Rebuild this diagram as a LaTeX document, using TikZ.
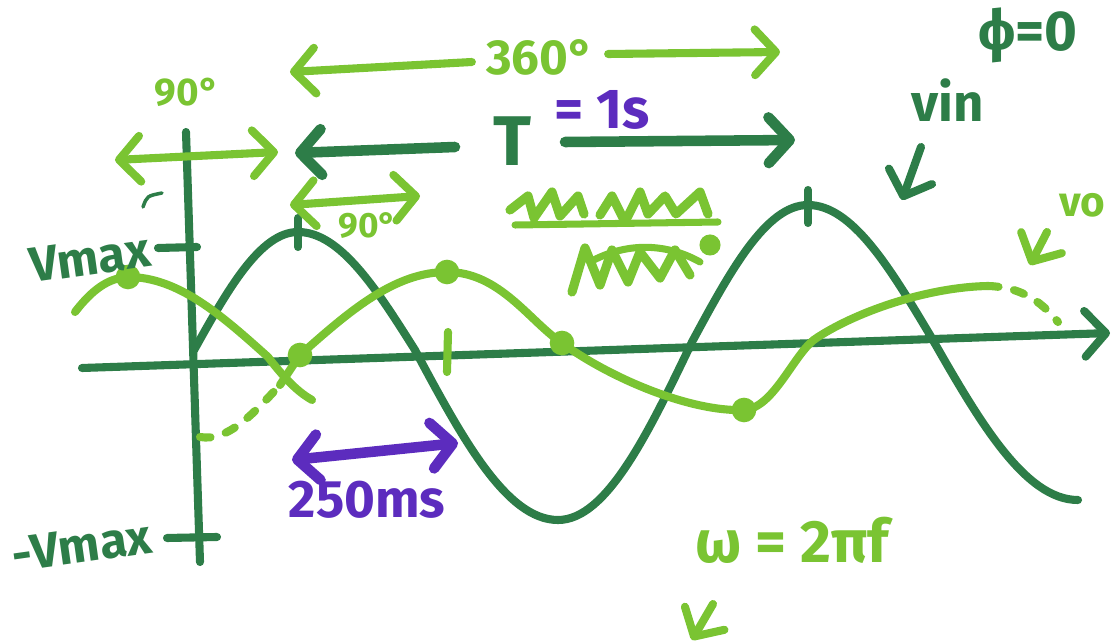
\documentclass[tikz,border=0pt]{standalone}
\usepackage{fontspec}
\setmainfont{Fira Sans}
\usetikzlibrary{arrows.meta}
\definecolor{vingreen}  {RGB}{ 45,125, 72}
\definecolor{vogreen}   {RGB}{122,196, 50}
\definecolor{timepurple}{RGB}{ 92, 44,190}

\begin{document}
\begin{tikzpicture}[
  x=0.01cm, y=-0.01cm,
  >={Straight Barb[length=6pt, width=13pt, line cap=round, line join=round]},
  every node/.style={font=\bfseries\fontsize{11}{11}\selectfont, inner sep=1pt},
  pen/.style={line width=2.3pt, line cap=round, line join=round},
  axisline/.style={pen, vingreen},
  vinline/.style={pen, vingreen},
  voline/.style={pen, vogreen},
  vodash/.style={voline, dash pattern=on 3pt off 4.5pt},
  timeline/.style={pen, timepurple, line width=3pt},
  vinlabel/.style={text=vingreen},
  volabel/.style={text=vogreen},
  timelabel/.style={text=timepurple}
]
  \useasboundingbox (0,0) rectangle (1115,643);

  % Axes
  \coordinate (xstart) at (82,368);
  \coordinate (xend) at (1110,333);
  \coordinate (ytop) at (186,132);
  \coordinate (ybot) at (200,562);
  \draw [axisline, ->] (xstart) -- (xend);
  \draw [axisline] (ytop) -- (ybot);
  \draw [axisline] (158,248) -- (197,247);
  \draw [axisline] (167,538) -- (217,537);
  \draw [vingreen, line width=1pt, line cap=round] (143,207) .. controls (147,196) .. (162,193);

  % vin
  \draw [vinline] (193,352) sin (298,232) cos (415,350) sin (558,520)
                  cos (692,342) sin (808,205) cos (930,335) sin (1078,500);
  \draw [vinline] (298,218) -- (298,247);
  \draw [vinline] (808,190) -- (808,223);

  % vo
  \draw [voline] (75,312) .. controls (92,290) and (108,278) .. (128,277)
                 cos (268,357) .. controls (288,383) and (300,393) .. (312,400);
  \draw [vodash] (200,437) .. controls (228,442) and (255,412) .. (280,385);
  \draw [voline] (280,385) -- (300,355) sin (447,272)
                 .. controls (500,272) and (530,322) .. (562,343)
                 .. controls (610,378) and (690,412) .. (744,410)
                 .. controls (775,408) and (795,350) .. (818,337)
                 .. controls (860,310) and (930,287) .. (988,286);
  \draw [vodash] (988,286) .. controls (1020,287) and (1040,300) .. (1058,322);
  \foreach \px/\py in {128/277, 300/355, 447/272, 562/343, 744/410}
    \fill [vogreen] (\px,\py) circle (3.5pt);
  \draw [voline] (448,332) -- (447,372);

  % crossed-out note
  \draw [voline, line width=2.6pt] (510,210) -- (528,196) -- (534,218) -- (552,192) -- (560,216)
        -- (578,196) -- (584,214);
  \draw [voline, line width=2.6pt] (600,215) -- (612,196) -- (625,222) -- (640,192) -- (648,214)
        -- (665,196) -- (676,214) -- (700,192) -- (708,214);
  \draw [voline, line width=2pt] (515,225) -- (718,222);
  \draw [voline, line width=2.6pt] (572,292) -- (585,248) -- (600,285) -- (612,250) -- (628,282)
        -- (640,252) -- (660,278) -- (675,250) -- (690,275);
  \draw [voline, line width=2pt] (590,262) .. controls (630,240) and (670,245) .. (700,262);
  \fill [vogreen] (710,245) circle (3pt);

  % labels on the axes
  \node (vmax) [vinlabel, rotate=8, font=\bfseries\fontsize{14}{14}\selectfont] at (90,258) {Vmax};
  \node (vmin) [vinlabel, rotate=8, font=\bfseries\fontsize{14}{14}\selectfont] at (82,546) {-Vmax};
  \node (deg90a) [volabel] at (187,92) {90°};
  \node (phi) [vinlabel, font=\bfseries\fontsize{16}{16}\selectfont] at (1028,35) {ϕ=0};

  % 360 degrees
  \node (deg360) [volabel, font=\bfseries\fontsize{14}{14}\selectfont] at (540,57) {360°};
  \coordinate (deg360l) at (290,72);
  \coordinate (deg360r) at (780,52);
  \draw [voline, ->] (deg360.west) ++(-10,5) -- (deg360l);
  \draw [voline, ->] (deg360.east) ++(10,-3) -- (deg360r);

  % period
  \node (period) [vinlabel, font=\bfseries\fontsize{20}{20}\selectfont] at (512,141) {T};
  \node (periodval) [timelabel, font=\bfseries\fontsize{16}{16}\selectfont] at (602,110) {= 1s};
  \coordinate (periodl) at (295,153);
  \coordinate (periodr) at (795,140);
  \draw [vinline, line width=3pt, ->] (455,147) -- (periodl);
  \draw [vinline, line width=3pt, ->] (565,142) -- (periodr);

  % 90 degree spans
  \coordinate (span90al) at (115,160);
  \coordinate (span90ar) at (278,152);
  \draw [voline, <->] (span90al) -- (span90ar);
  \coordinate (span90bl) at (290,205);
  \coordinate (span90br) at (420,196);
  \draw [voline, <->] (span90bl) -- (span90br);
  \node (deg90b) [volabel, font=\bfseries\fontsize{10}{10}\selectfont] at (368,226) {90°};

  % 250 ms
  \coordinate (quarterl) at (292,460);
  \coordinate (quarterr) at (458,443);
  \draw [timeline, <->] (quarterl) -- (quarterr);
  \node (quarter) [timelabel, font=\bfseries\fontsize{15}{15}\selectfont] at (367,500) {250ms};

  % signal names
  \node (vin) [vinlabel, font=\bfseries\fontsize{15}{15}\selectfont] at (948,100) {vin};
  \coordinate (vinend) at (902,200);
  \draw [vinline, ->] (921,147) -- (vinend);
  \node (vo) [volabel, font=\bfseries\fontsize{12}{12}\selectfont] at (1082,205) {vo};
  \coordinate (voend) at (1030,265);
  \draw [voline, ->] (1047,232) -- (voend);

  % angular frequency
  \node (omega) [volabel, font=\bfseries\fontsize{17}{17}\selectfont] at (792,540) {ω = 2πf};
  \coordinate (omegaend) at (692,640);
  \draw [voline, ->] (713,604) -- (omegaend);
\end{tikzpicture}
\end{document}
